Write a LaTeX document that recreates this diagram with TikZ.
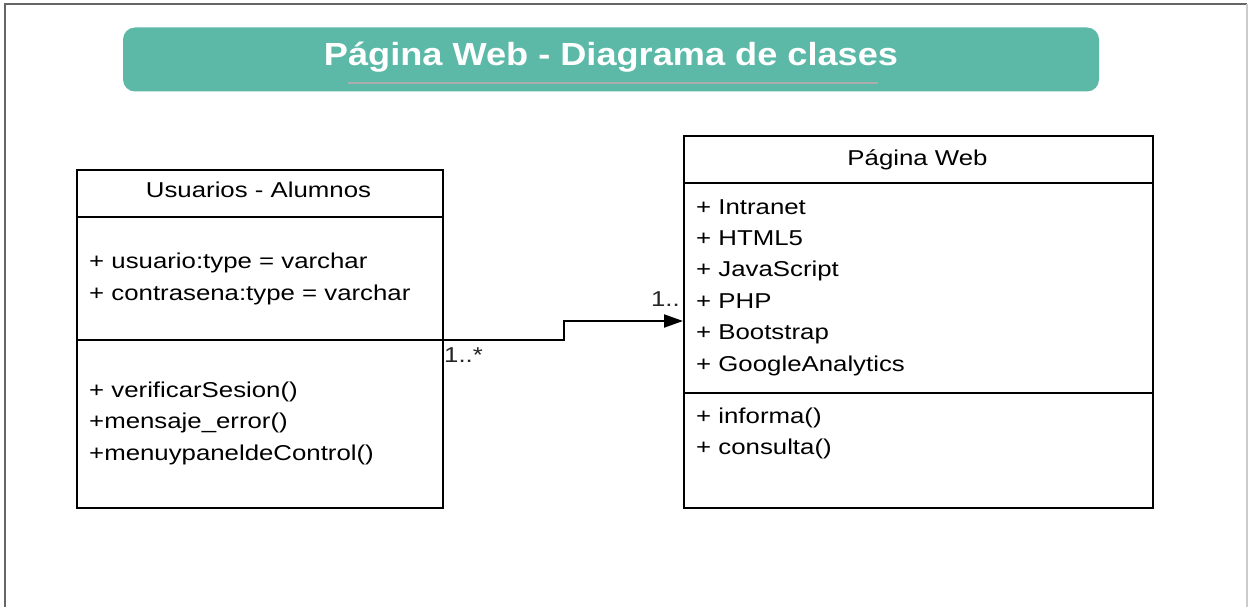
\documentclass[tikz,border=0pt]{standalone}
\usepackage{fontspec}
\setmainfont{Liberation Sans}[FakeStretch=1.2]
\newfontfamily\titlefont{Liberation Sans}[FakeStretch=1.13]
\usepackage{xcolor}
\usetikzlibrary{positioning,calc,arrows.meta}
\definecolor{tealbar}{HTML}{5CB9A8}

\begin{document}
\begin{tikzpicture}[x=1pt, y=-1pt,
    classbox/.style={draw, line width=1.6pt, inner sep=0pt, anchor=north west},
    divider/.style={draw, line width=1.6pt},
    member/.style={anchor=base west, inner sep=0pt, font=\fontsize{21.5}{21.5}\selectfont},
    header/.style={anchor=base, inner sep=0pt, font=\fontsize{21.5}{21.5}\selectfont},
    mult/.style={inner sep=0pt, text=black!85, font=\fontsize{21.5}{21.5}\selectfont},
    assoc/.style={line width=2pt, -{Triangle[length=19pt,width=13pt]}}]
    \useasboundingbox (0,0) rectangle (1249,607);

    % Frame
    \draw[gray!80!black, line width=1.5pt] (5,607) -- (5,4) -- (1247,4);
    \draw[gray!40, line width=1.5pt] (1247,4) -- (1247,607);

    % Title
    \node[fill=tealbar, rounded corners=12pt, minimum width=976pt, minimum height=64pt, inner sep=0pt] (titlebar) at (611,59.5) {};
    \node[anchor=base, inner sep=0pt, text=white, font=\titlefont\bfseries\fontsize{32}{32}\selectfont] (titletext) at (611,66) {Página Web - Diagrama de clases};
    \draw[gray!65, line width=2pt] (348,83) -- (878,83);

    % Usuarios - Alumnos
    \node[classbox, minimum width=366pt, minimum height=338pt] (usuarios) at (76,169) {};
    \coordinate (usrdiv1) at (76,217);
    \coordinate (usrdiv2) at (76,340);
    \draw[divider] (usrdiv1) -- (usuarios.east |- usrdiv1);
    \draw[divider] (usrdiv2) -- (usuarios.east |- usrdiv2);
    \node[header] (usrname) at (258.5,197) {Usuarios - Alumnos};
    \node[member] (usrattr1) at (89,268) {+ usuario:type = varchar};
    \node[member] (usrattr2) at (89,300) {+ contrasena:type = varchar};
    \node[member] (usrop1) at (89,397) {+ verificarSesion()};
    \node[member] (usrop2) at (89,428.5) {+mensaje\_error()};
    \node[member] (usrop3) at (89,460.5) {+menuypaneldeControl()};

    % Pagina Web
    \node[classbox, minimum width=469pt, minimum height=372pt] (pagina) at (683,135) {};
    \coordinate (pagdiv1) at (683,183);
    \coordinate (pagdiv2) at (683,393);
    \draw[divider] (pagdiv1) -- (pagina.east |- pagdiv1);
    \draw[divider] (pagdiv2) -- (pagina.east |- pagdiv2);
    \node[header] (pagname) at (917.5,165) {Página Web};
    \foreach \attr [count=\i from 0] in {Intranet, HTML5, JavaScript, PHP, Bootstrap, GoogleAnalytics}
        \node[member] (pagattr\i) at (696,214+31.4*\i) {+ \attr};
    \node[member] (pagop1) at (696,423) {+ informa()};
    \node[member] (pagop2) at (696,454) {+ consulta()};

    % Association
    \draw[assoc] (usuarios.east |- usrdiv2) -- ++(120,0) |- (pagina.west |- 0,321);
    \node[mult, anchor=base west] (multusr) at (444,362) {1..*};
    \node[mult, anchor=base east] (multpag) at (680,306) {1..};
\end{tikzpicture}
\end{document}
